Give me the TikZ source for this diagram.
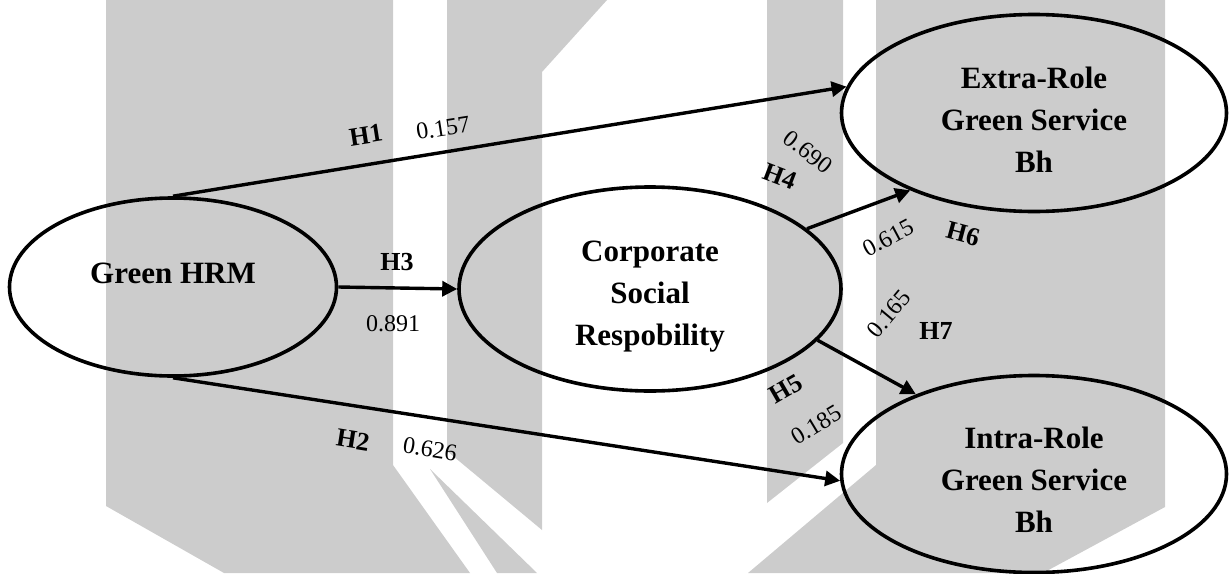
\documentclass[tikz,border=0pt]{standalone}
\usepackage{fontspec}
\setmainfont{Liberation Serif}
\usepackage{tikz}
\usetikzlibrary{
  arrows.meta,shapes.geometric
}
\definecolor{wmgray}{RGB}{204,204,204}
\tikzset{
  latent/.style={ellipse,draw,line width=1.8pt,inner sep=0pt},
  construct/.style={align=center,font=\fontsize{15.5}{21}\selectfont\bfseries},
  hyp/.style={font=\fontsize{13}{15}\selectfont\bfseries,inner sep=0pt},
  coef/.style={font=\fontsize{12}{14}\selectfont,inner sep=0pt},
  wmark/.style={fill=wmgray}
}
\tikzstyle{effect} = [line width=1.7pt,-{Triangle[length=7.5pt,width=7.5pt]}]

\begin{document}
\begin{tikzpicture}[x=0.5pt,y=-0.5pt]
  \useasboundingbox (0,0) rectangle (1230,573);
  \fill[wmark] (106,0) -- (393,0) -- (393,465) -- (470,573) -- (224,573) -- (106,506) -- cycle;
  \fill[wmark] (430,469) -- (537,573) -- (497,573) -- cycle;
  \fill[wmark] (447,0) -- (607,0) -- (542,72) -- (542,530) -- (447,451) -- cycle;
  \fill[wmark] (767,0) -- (843,0) -- (843,443) -- (767,503) -- cycle;
  \fill[wmark] (876,0) -- (1165,0) -- (1165,507) -- (1043,573) -- (748,573) -- (876,465) -- cycle;

  \node[latent,minimum width=163.5pt,minimum height=89pt] (hrm) at (173,287) {};
  \node[latent,minimum width=191pt,minimum height=102pt] (csr) at (650,289) {};
  \node[latent,minimum width=192.5pt,minimum height=98.5pt] (extra) at (1034,113) {};
  \node[latent,minimum width=192.5pt,minimum height=98.5pt] (intra) at (1034,474) {};

  \node[construct] (hrmtxt) at (173,273) {Green HRM};
  \node[construct] (csrtxt) at (650,297) {Corporate\\Social\\Respobility};
  \node[construct] (extratxt) at (1034,120) {Extra-Role\\Green Service\\Bh};
  \node[construct] (intratxt) at (1034,480) {Intra-Role\\Green Service\\Bh};

  \draw[effect] (hrm.north) -- (extra.172);
  \draw[effect] (hrm.south) -- (intra.182);
  \draw[effect] (hrm.east) -- (csr.west);
  \draw[effect] (csr.21) -- (extra.212);
  \draw[effect] (csr.343) -- (intra.146);

  \node[hyp,rotate=9] (h1) at (366,135) {H1};
  \node[coef,rotate=9] (c1) at (443,128) {0.157};
  \node[hyp,rotate=-9] (h2) at (353,440) {H2};
  \node[coef,rotate=-9] (c2) at (430,449) {0.626};
  \node[hyp] (h3) at (397,262) {H3};
  \node[coef] (c3) at (393,324) {0.891};
  \node[hyp,rotate=-21] (h4) at (780,176) {H4};
  \node[coef,rotate=-38] (c4) at (808,152) {0.690};
  \node[hyp,rotate=30] (h5) at (786,389) {H5};
  \node[coef,rotate=31] (c5) at (816,425) {0.185};
  \node[hyp,rotate=-15] (h6) at (963,234) {H6};
  \node[coef,rotate=28] (c6) at (888,238) {0.615};
  \node[hyp] (h7) at (936,331) {H7};
  \node[coef,rotate=50] (c7) at (889,314) {0.165};
\end{tikzpicture}
\end{document}
